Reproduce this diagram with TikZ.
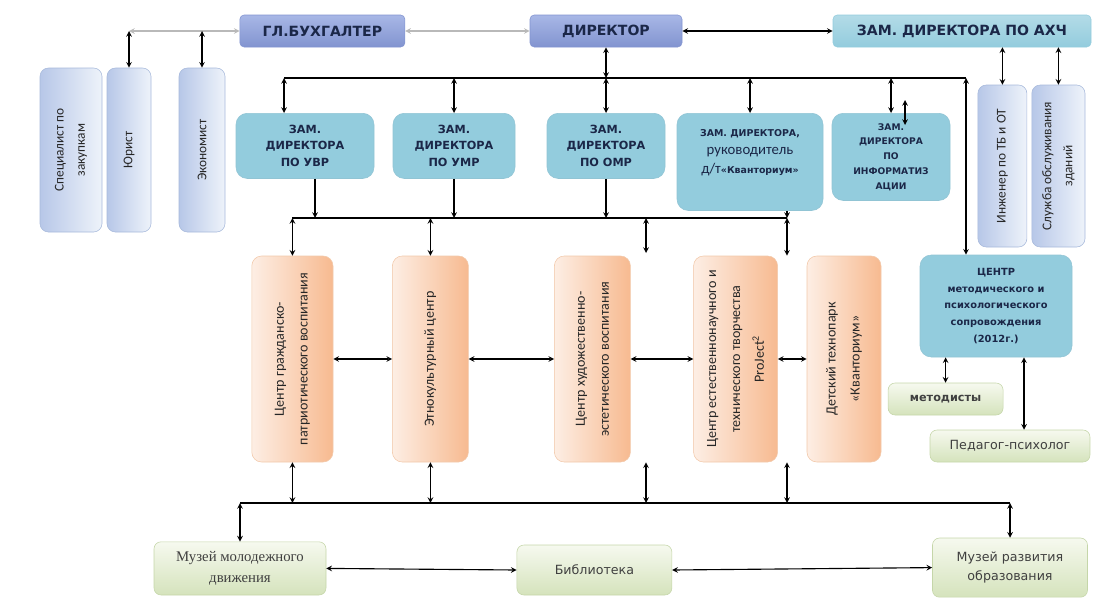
\documentclass[tikz,border=0pt]{standalone}
\usepackage{fontspec}
\setmainfont{DejaVu Sans}
\newfontfamily\calfont{Carlito}
\newfontfamily\serfont{Liberation Serif}
\usetikzlibrary{shapes,arrows,positioning,shadows}

\definecolor{headtext}{HTML}{1B2748}
\definecolor{topdark}{HTML}{8294D0}
\definecolor{toplight}{HTML}{A8B7E6}
\definecolor{zamfill}{HTML}{93CCDD}
\definecolor{staffdark}{HTML}{B7C7E8}
\definecolor{stafflight}{HTML}{EEF3FA}
\definecolor{staffedge}{HTML}{A7B9DB}
\definecolor{orgdark}{HTML}{F7BA90}
\definecolor{orglight}{HTML}{FDEEE4}
\definecolor{orgedge}{HTML}{F2C9AB}
\definecolor{grdark}{HTML}{D5E3BC}
\definecolor{grlight}{HTML}{F6F9EF}
\definecolor{gredge}{HTML}{C5D6A9}

\begin{document}
\begin{tikzpicture}[
    node distance=0.2cm,
    topbox/.style={rectangle, rounded corners=3pt, minimum height=0.8cm, text centered, draw=topdark, top color=toplight, bottom color=topdark, text=headtext, font=\bfseries\fontsize{10}{12}\selectfont},
    zambox/.style={rectangle, rounded corners=8pt, align=center, fill=zamfill, draw=zamfill!90!gray, text=headtext, font=\bfseries\fontsize{8}{12}\selectfont},
    staff/.style={rectangle, rounded corners=6pt, rotate=90, align=center, draw=staffedge, left color=staffdark, right color=stafflight, text=black!85, font=\calfont\fontsize{9.5}{15}\selectfont},
    centre/.style={rectangle, rounded corners=7pt, rotate=90, align=center, draw=orgedge, left color=orglight, right color=orgdark, minimum width=5.15cm, text=black!85, font=\calfont\fontsize{10}{17}\selectfont},
    greenbox/.style={rectangle, rounded corners=5pt, align=center, draw=gredge, top color=grlight, bottom color=grdark, text=black!75, font=\fontsize{9}{14}\selectfont},
    arrow/.style={<->, >=stealth, line width=0.8pt},
    down/.style={->, >=stealth, line width=0.8pt},
    garrow/.style={arrow, draw=gray!55},
    link/.style={line width=0.8pt}
]
\useasboundingbox (0,0) rectangle (27.45,-14.95);

% Top row
\node[topbox, minimum width=4.125cm] (buh) at (8.06,-0.775) {ГЛ.БУХГАЛТЕР};
\node[topbox, minimum width=3.8cm] (dir) at (15.15,-0.775) {ДИРЕКТОР};
\node[topbox, minimum width=6.45cm, draw=zamfill, top color=zamfill!70!white, bottom color=zamfill] (axch) at (24.05,-0.775) {ЗАМ. ДИРЕКТОРА ПО АХЧ};

% Left staff
\node[staff, minimum width=4.1cm, minimum height=1.55cm] (spec) at (1.775,-3.75) {Специалист по\\закупкам};
\node[staff, minimum width=4.1cm, minimum height=1.1cm] (yur) at (3.225,-3.75) {Юрист};
\node[staff, minimum width=4.1cm, minimum height=1.15cm] (econ) at (5.05,-3.75) {Экономист};

% Deputies
\node[zambox, anchor=north, minimum width=3.45cm, minimum height=1.63cm] (uvr) at (7.625,-2.825) {ЗАМ.\\ДИРЕКТОРА\\ПО УВР};
\node[zambox, anchor=north, minimum width=3.05cm, minimum height=1.63cm] (umr) at (11.35,-2.825) {ЗАМ.\\ДИРЕКТОРА\\ПО УМР};
\node[zambox, anchor=north, minimum width=2.95cm, minimum height=1.63cm] (omr) at (15.15,-2.825) {ЗАМ.\\ДИРЕКТОРА\\ПО ОМР};
\node[zambox, anchor=north, minimum width=3.65cm, minimum height=2.43cm, font=\bfseries\fontsize{6.7}{13}\selectfont] (kvant) at (18.75,-2.825) {ЗАМ. ДИРЕКТОРА,\\{\calfont\mdseries\fontsize{10.5}{13}\selectfont руководитель}\\{\calfont\mdseries\fontsize{10.5}{13}\selectfont д/т}«Кванториум»\\[2pt]\mbox{}};
\node[zambox, anchor=north, minimum width=2.95cm, minimum height=2.18cm, font=\bfseries\fontsize{6.5}{10.5}\selectfont] (inf) at (22.275,-2.825) {ЗАМ.\\ДИРЕКТОРА\\ПО\\ИНФОРМАТИЗ\\АЦИИ};

% Right staff
\node[staff, minimum width=4.05cm, minimum height=1.225cm] (ing) at (25.06,-4.15) {Инженер по ТБ и ОТ};
\node[staff, minimum width=4.05cm, minimum height=1.33cm] (sluzh) at (26.46,-4.15) {Служба обслуживания\\зданий};

% Centres
\node[centre, minimum height=2.03cm] (grazh) at (7.31,-8.975) {Центр гражданско-\\патриотического воспитания};
\node[centre, minimum height=1.9cm] (etno) at (10.76,-8.975) {Этнокультурный центр};
\node[centre, minimum height=1.9cm] (hud) at (14.81,-8.975) {Центр художественно-\\эстетического воспитания};
\node[centre, minimum height=2.1cm] (est) at (18.39,-8.975) {Центр естественнонаучного и\\технического творчества\\ProJect\textsuperscript{2}};
\node[centre, minimum height=1.85cm] (kvp) at (21.1,-8.975) {Детский технопарк\\«Кванториум»};

% Methodical centre
\node[zambox, minimum width=3.8cm, minimum height=2.55cm, font=\bfseries\fontsize{7}{12}\selectfont] (cmp) at (24.9,-7.65) {ЦЕНТР\\методического и\\психологического\\сопровождения\\(2012г.)};
\node[greenbox, minimum width=2.875cm, minimum height=0.8cm, font=\bfseries\fontsize{8}{10}\selectfont] (met) at (23.64,-9.975) {методисты};
\node[greenbox, minimum width=4cm, minimum height=0.8cm] (ped) at (25.25,-11.15) {Педагог-психолог};

% Bottom row
\node[greenbox, minimum width=4.3cm, minimum height=1.33cm, font=\serfont\fontsize{10.5}{15}\selectfont] (mmd) at (6.0,-14.21) {Музей молодежного\\движения};
\node[greenbox, minimum width=3.875cm, minimum height=1.25cm] (bib) at (14.86,-14.25) {Библиотека};
\node[greenbox, minimum width=3.875cm, minimum height=1.48cm] (mro) at (25.25,-14.19) {Музей развития\\образования};

% Bus coordinates
\coordinate (top1) at (7.1,-1.95);
\coordinate (top2) at (24.15,-1.95);
\coordinate (mid1) at (7.3,-5.45);
\coordinate (mid2) at (19.675,-5.45);
\coordinate (low1) at (6.0,-12.575);
\coordinate (low2) at (25.25,-12.575);
\coordinate (hudtop) at (16.15,-6.325);
\coordinate (extra) at (22.625,-2.5);
\coordinate (uvrbot) at ([xshift=0.25cm]uvr.south);
\coordinate (pedtop) at ([xshift=0.35cm]ped.north);

% Top links
\coordinate (jyur) at (yur.east |- buh.west);
\draw[garrow] (jyur) -- (buh.west);
\draw[arrow] (jyur) -- (yur.east);
\draw[arrow] (econ.east |- buh.west) -- (econ.east);
\draw[garrow] (buh.east) -- (dir.west);
\draw[arrow] (dir.east) -- (axch.west);
\draw[arrow] (axch.south -| ing.east) -- (ing.east);
\draw[arrow] (axch.south -| sluzh.east) -- (sluzh.east);

% Director to deputies
\draw[link] (top1) -- (top2);
\draw[arrow] (dir.south) -- (dir.south |- top1);
\draw[arrow] (dir.south |- top1) -- (omr.north);
\draw[arrow] (top1) -- (top1 |- uvr.north);
\draw[arrow] (umr.north |- top1) -- (umr.north);
\draw[arrow] (kvant.north |- top1) -- (kvant.north);
\draw[arrow] (inf.north |- top1) -- (inf.north);
\draw[arrow] (extra) -- ([xshift=0.35cm, yshift=-0.3cm]inf.north);
\draw[arrow] (top2) -- (top2 |- cmp.north);

% Deputies to centres
\draw[link] (mid1) -- (mid2);
\draw[down] (uvrbot) -- (uvrbot |- mid1);
\draw[down] (umr.south) -- (umr.south |- mid1);
\draw[down] (omr.south) -- (omr.south |- mid1);
\draw[down] (mid2 |- kvant.south) -- (mid2);
\draw[arrow] (grazh.east |- mid1) -- (grazh.east);
\draw[arrow] (etno.east |- mid1) -- (etno.east);
\draw[arrow] (hudtop |- mid1) -- (hudtop);
\draw[arrow] (mid2) -- (mid2 |- est.east);

% Between centres
\draw[arrow] (grazh.south) -- (etno.north);
\draw[arrow] (etno.south) -- (hud.north);
\draw[arrow] (hud.south) -- (est.north);
\draw[arrow] (est.south) -- (kvp.north);

% Centres to museums
\draw[link] (low1) -- (low2);
\draw[arrow] (grazh.west) -- (grazh.west |- low1);
\draw[arrow] (etno.west) -- (etno.west |- low1);
\draw[arrow] (hudtop |- hud.west) -- (hudtop |- low1);
\draw[arrow] (mid2 |- est.west) -- (mid2 |- low1);
\draw[arrow] (low1) -- (mmd.north);
\draw[arrow] (low2) -- (mro.north);
\draw[arrow] (mmd.east) -- (bib.west);
\draw[arrow] (bib.east) -- (mro.west);

% Methodical support
\draw[arrow] (met.north |- cmp.south) -- (met.north);
\draw[arrow] (pedtop |- cmp.south) -- (pedtop);

\end{tikzpicture}
\end{document}
